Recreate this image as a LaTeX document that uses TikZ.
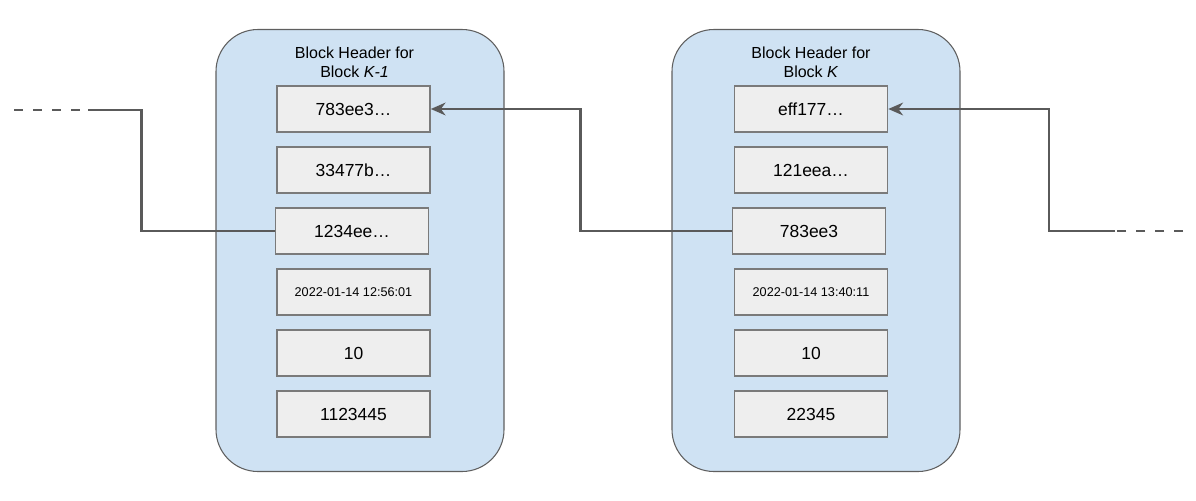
\documentclass[tikz,border=0pt]{standalone}
\usepackage{fontspec}
\setmainfont{Liberation Sans}
\usepackage{tikz}
\usetikzlibrary{shapes.geometric, arrows.meta}
\usepackage{color}
\definecolor{blockfill}{HTML}{CFE2F3}
\definecolor{blockline}{HTML}{5F5F5F}
\definecolor{fieldfill}{HTML}{EEEEEE}
\definecolor{fieldline}{HTML}{7A7A7A}
\definecolor{linkcol}{HTML}{5A5A5A}
\tikzstyle{block} = [rectangle, rounded corners=31.5pt, minimum width=216pt, minimum height=331.5pt, draw=blockline, line width=0.8pt, fill=blockfill]
\tikzstyle{title} = [align=center, inner sep=0pt, font=\fontsize{12}{14.5}\selectfont]
\tikzstyle{field} = [rectangle, minimum width=114.75pt, minimum height=34.5pt, text centered, draw=fieldline, line width=1.2pt, fill=fieldfill, font=\fontsize{13.1}{15}\selectfont]
\tikzstyle{stamp} = [field, font=\fontsize{9.5}{11}\selectfont]
\tikzstyle{link} = [draw=linkcol, line width=2pt]
\tikzstyle{arrow} = [link, -{Stealth[length=11pt, width=9.5pt, inset=3.5pt]}]
\tikzstyle{dashlink} = [link, dash pattern=on 6.75pt off 7.5pt]

\begin{document}
\begin{tikzpicture}[x=0.75pt, y=-0.75pt, node distance=45.75pt]
        \useasboundingbox (0,0) rectangle (1196,500);
        % Nodes
        \node (blockA) [block] at (360,250.5) {};
        \node (blockB) [block] at (816,250.5) {};
        \node (titleA) [title] at (354.5,62) {Block Header for\\Block \textit{K-1}};
        \node (titleB) [title] at (811,62) {Block Header for\\Block \textit{K}};

        \node (hashA) [field] at (353.5,109) {783ee3…};
        \node (rootA) [field, below of=hashA] {33477b…};
        \node (prevA) [field, below of=rootA, xshift=-1.1pt] {1234ee…};
        \node (timeA) [stamp, below of=rootA, yshift=-45.75pt] {2022-01-14 12:56:01};
        \node (diffA) [field, below of=timeA] {10};
        \node (nonceA) [field, below of=diffA] {1123445};

        \node (hashB) [field] at (811,109) {eff177…};
        \node (rootB) [field, below of=hashB] {121eea…};
        \node (prevB) [field, below of=rootB, xshift=-1.5pt] {783ee3};
        \node (timeB) [stamp, below of=rootB, yshift=-45.75pt] {2022-01-14 13:40:11};
        \node (diffB) [field, below of=timeB] {10};
        \node (nonceB) [field, below of=diffB] {22345};

        \coordinate (openA) at (88,110);
        \coordinate (endA) at (14,110);
        \coordinate (openB) at (1115,231);
        \coordinate (endB) at (1183,231);

        % Arrows
        \draw [link] (prevA.west) -- ++(-133,0) |- (openA);
        \draw [dashlink] (endA) -- (openA);
        \draw [arrow] (prevB.west) -- ++(-151,0) |- (hashA.east);
        \draw [arrow] (openB) -- ++(-66,0) |- (hashB.east);
        \draw [dashlink] (endB) -- (openB);
    \end{tikzpicture}
\end{document}
